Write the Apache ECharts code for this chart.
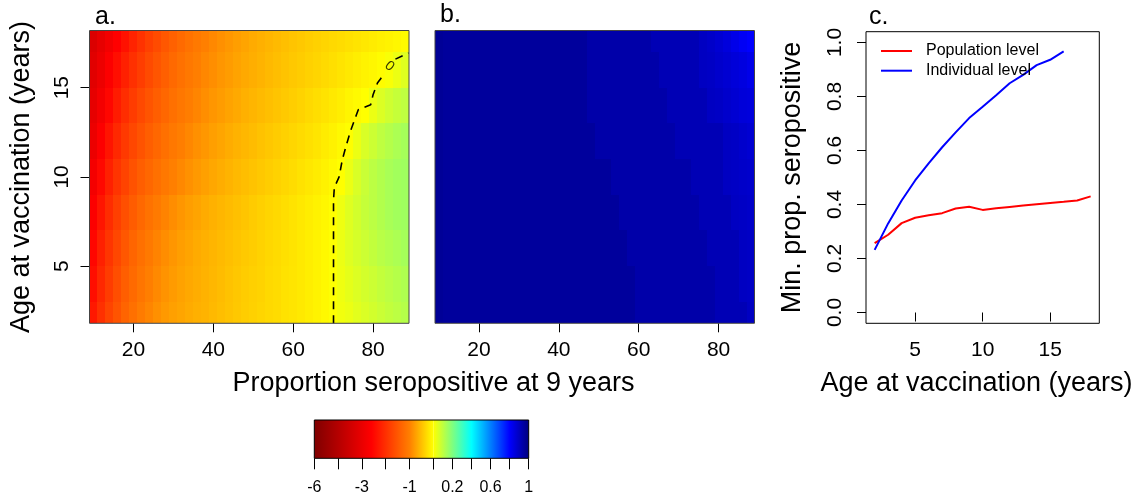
<!DOCTYPE html>
<html><head><meta charset="utf-8">
<script src="https://cdn.jsdelivr.net/npm/echarts@6/dist/echarts.min.js"></script>
<style>html,body{margin:0;padding:0;background:#fff}#c{width:1140px;height:499px}</style>
</head><body><div id="c"></div>
<script>
// ---------------- data ----------------
const seroX = [10,12,14,16,18,20,22,24,26,28,30,32,34,36,38,40,42,44,46,48,50,52,54,56,58,60,62,64,66,68,70,72,74,76,78,80,82,84,86,88];
const bandAges = [2,4,6,8,10,12,14,16,18];
// panel a: rows = bandAges (bottom to top), columns = seroX
const effectA = [
 [-2.30,-2.00,-1.74,-1.54,-1.34,-1.19,-1.05,-0.95,-0.87,-0.80,-0.74,-0.70,-0.66,-0.62,-0.59,-0.55,-0.51,-0.47,-0.43,-0.39,-0.36,-0.33,-0.30,-0.27,-0.23,-0.20,-0.17,-0.13,-0.09,-0.05,0.003,0.02,0.03,0.045,0.058,0.07,0.083,0.095,0.105,0.115],
 [-2.42,-2.10,-1.84,-1.62,-1.42,-1.26,-1.12,-1.01,-0.92,-0.84,-0.78,-0.73,-0.68,-0.64,-0.60,-0.56,-0.52,-0.48,-0.44,-0.40,-0.37,-0.34,-0.30,-0.27,-0.23,-0.20,-0.17,-0.13,-0.09,-0.05,0.003,0.025,0.04,0.055,0.068,0.08,0.093,0.105,0.115,0.125],
 [-2.52,-2.20,-1.93,-1.70,-1.50,-1.33,-1.19,-1.07,-0.97,-0.89,-0.82,-0.76,-0.71,-0.66,-0.62,-0.58,-0.54,-0.50,-0.46,-0.42,-0.39,-0.35,-0.31,-0.28,-0.24,-0.21,-0.17,-0.13,-0.09,-0.05,0.002,0.03,0.05,0.065,0.08,0.095,0.11,0.12,0.13,0.14],
 [-2.65,-2.34,-2.05,-1.81,-1.61,-1.44,-1.29,-1.16,-1.06,-0.97,-0.89,-0.82,-0.76,-0.71,-0.66,-0.61,-0.57,-0.53,-0.49,-0.45,-0.41,-0.37,-0.33,-0.30,-0.26,-0.22,-0.18,-0.14,-0.10,-0.06,-0.01,0.025,0.05,0.07,0.09,0.105,0.12,0.135,0.145,0.15],
 [-2.80,-2.50,-2.20,-1.95,-1.75,-1.57,-1.42,-1.30,-1.19,-1.09,-1.00,-0.93,-0.86,-0.80,-0.74,-0.69,-0.64,-0.59,-0.55,-0.51,-0.47,-0.43,-0.39,-0.35,-0.31,-0.27,-0.23,-0.19,-0.15,-0.10,-0.05,0.00,0.03,0.06,0.085,0.105,0.12,0.135,0.145,0.15],
 [-2.95,-2.64,-2.35,-2.10,-1.88,-1.70,-1.55,-1.42,-1.30,-1.19,-1.09,-1.01,-0.94,-0.87,-0.81,-0.75,-0.70,-0.65,-0.60,-0.56,-0.52,-0.48,-0.44,-0.40,-0.36,-0.32,-0.28,-0.24,-0.20,-0.15,-0.10,-0.05,-0.005,0.03,0.06,0.08,0.10,0.115,0.13,0.14],
 [-3.10,-2.80,-2.52,-2.26,-2.03,-1.84,-1.68,-1.54,-1.42,-1.30,-1.19,-1.10,-1.02,-0.95,-0.88,-0.82,-0.77,-0.72,-0.67,-0.62,-0.58,-0.54,-0.50,-0.46,-0.42,-0.38,-0.34,-0.30,-0.26,-0.22,-0.17,-0.13,-0.08,-0.04,0.00,0.03,0.055,0.075,0.09,0.10],
 [-3.25,-2.93,-2.66,-2.42,-2.20,-2.00,-1.83,-1.67,-1.53,-1.40,-1.28,-1.18,-1.09,-1.01,-0.94,-0.88,-0.82,-0.77,-0.72,-0.67,-0.63,-0.59,-0.55,-0.51,-0.47,-0.43,-0.40,-0.36,-0.33,-0.29,-0.25,-0.21,-0.17,-0.13,-0.09,-0.06,-0.02,0.01,0.03,0.05],
 [-3.40,-3.08,-2.82,-2.60,-2.38,-2.16,-1.97,-1.80,-1.65,-1.51,-1.38,-1.27,-1.17,-1.08,-1.00,-0.93,-0.87,-0.81,-0.76,-0.71,-0.66,-0.62,-0.58,-0.54,-0.50,-0.46,-0.43,-0.39,-0.36,-0.33,-0.30,-0.27,-0.24,-0.21,-0.18,-0.15,-0.12,-0.09,-0.06,-0.03]
];
// panel b
const effectB = [
 [.962,.955,.955,.955,.955,.955,.955,.955,.955,.955, .955,.955,.955,.955,.955,.955,.955,.955,.955,.955, .955,.955,.955,.955,.955,.935,.935,.935,.935,.935, .935,.935,.935,.935,.935,.915,.915,.915,.915,.895],
 [.962,.955,.955,.955,.955,.955,.955,.955,.955,.955, .955,.955,.955,.955,.955,.955,.955,.955,.955,.955, .955,.955,.955,.955,.955,.935,.935,.935,.935,.935, .935,.935,.935,.935,.935,.915,.915,.915,.895,.89],
 [.962,.955,.955,.955,.955,.955,.955,.955,.955,.955, .955,.955,.955,.955,.955,.955,.955,.955,.955,.955, .955,.955,.955,.955,.935,.935,.935,.935,.935,.935, .935,.935,.935,.935,.915,.915,.915,.915,.895,.89],
 [.962,.955,.955,.955,.955,.955,.955,.955,.955,.955, .955,.955,.955,.955,.955,.955,.955,.955,.955,.955, .955,.955,.955,.935,.935,.935,.935,.935,.935,.935, .935,.935,.935,.915,.915,.915,.915,.895,.89,.885],
 [.962,.955,.955,.955,.955,.955,.955,.955,.955,.955, .955,.955,.955,.955,.955,.955,.955,.955,.955,.955, .955,.955,.935,.935,.935,.935,.935,.935,.935,.935, .935,.935,.915,.915,.915,.915,.895,.89,.885,.88],
 [.962,.955,.955,.955,.955,.955,.955,.955,.955,.955, .955,.955,.955,.955,.955,.955,.955,.955,.955,.955, .935,.935,.935,.935,.935,.935,.935,.935,.935,.935, .915,.915,.915,.915,.915,.915,.895,.89,.88,.87],
 [.962,.955,.955,.955,.955,.955,.955,.955,.955,.955, .955,.955,.955,.955,.955,.955,.955,.955,.955,.935, .935,.935,.935,.935,.935,.935,.935,.935,.935,.915, .915,.915,.915,.915,.895,.89,.88,.87,.86,.855],
 [.962,.955,.955,.955,.955,.955,.955,.955,.955,.955, .955,.955,.955,.955,.955,.955,.955,.955,.955,.935, .935,.935,.935,.935,.935,.935,.935,.935,.915,.915, .915,.915,.915,.895,.89,.88,.87,.86,.85,.835],
 [.962,.955,.955,.955,.955,.955,.955,.955,.955,.955, .955,.955,.955,.955,.955,.955,.955,.955,.955,.935, .935,.935,.935,.935,.935,.935,.935,.915,.915,.915, .915,.915,.915,.895,.885,.87,.855,.835,.815,.80]
];
// zero contour of panel a (null = gap for the label)
const contourX   = [70.1, 70.1, 70.3, 71.5, 72.3, 73.2, 74.4, 75.7, 76.3, 79.4, 80.0, 81.1, 81.9, 82.8, null, 85.6, 86.1, 88.9];
const contourAge = [1.8, 8.7, 9.4, 10.0, 10.96, 11.7, 12.6, 13.4, 13.76, 14.04, 14.6, 15.26, 15.5, 15.8, null, 16.6, 16.7, 16.95];
const contourLabel = [84.1, 16.2, '0'];
// panel c
const vaccAges = [2,3,4,5,6,7,8,9,10,11,12,13,14,15,16,17,18];
const popLevel = [0.257,0.288,0.331,0.351,0.360,0.368,0.385,0.392,0.380,0.386,0.391,0.396,0.401,0.406,0.410,0.415,0.430];
const indAges = [2,3,4,5,6,7,8,9,10,11,12,13,14,15,16];
const indLevel = [0.232,0.330,0.415,0.489,0.552,0.612,0.667,0.720,0.762,0.805,0.849,0.880,0.916,0.936,0.967];
// ticks
const seroTicks = [20,40,60,80];
const ageTicks = [5,10,15];
const propTicks = [0,0.2,0.4,0.6,0.8,1];
const cbBreaks = [-6,-4.5,-3,-2,-1,0,0.2,0.4,0.6,0.8,1];
const cbLabels = ['-6','','-3','','-1','','0.2','','0.6','','1'];

// ---------------- colour scale ----------------
const cbStops = [[0,'#7F0000'],[2.4,'#FF0000'],[4,'#FF7F00'],[5,'#FFFF00'],[6,'#7FFF7F'],[7,'#00FFFF'],[8,'#007FFF'],[9,'#0000FF'],[10,'#00007F']];
function hexRgb(h){return [parseInt(h.slice(1,3),16),parseInt(h.slice(3,5),16),parseInt(h.slice(5,7),16)];}
function tickIndex(v){
  if (v <= cbBreaks[0]) return 0;
  for (let i=0;i<cbBreaks.length-1;i++){
    if (v <= cbBreaks[i+1]) return i + (v-cbBreaks[i])/(cbBreaks[i+1]-cbBreaks[i]);
  }
  return cbBreaks.length-1;
}
function colorAtT(t){
  for (let i=0;i<cbStops.length-1;i++){
    const [t0,c0]=cbStops[i],[t1,c1]=cbStops[i+1];
    if (t <= t1){
      const f=Math.max(0,Math.min(1,(t-t0)/(t1-t0)));
      const a=hexRgb(c0),b=hexRgb(c1);
      return 'rgb('+a.map((x,k)=>Math.round(x+(b[k]-x)*f)).join(',')+')';
    }
  }
  return cbStops[cbStops.length-1][1];
}
function colorOf(v){return colorAtT(tickIndex(v));}

// ---------------- helpers ----------------
const FONT = 'Liberation Sans';
const Y_MIN = 1.795, Y_MAX = 18.205;
function heatSeries(idx, matrix){
  const data=[];
  matrix.forEach((row,r)=>row.forEach((v,c)=>data.push([seroX[c], bandAges[r], v, c, r])));
  const half = (seroX[1]-seroX[0])/2;
  return {
    type:'custom', xAxisIndex:idx, yAxisIndex:idx, data, silent:true, clip:true, z:1,
    renderItem(params, api){
      const x=api.value(0), r=api.value(4), v=api.value(2);
      const lo = r===0 ? Y_MIN : (bandAges[r-1]+bandAges[r])/2;
      const hi = r===bandAges.length-1 ? Y_MAX : (bandAges[r]+bandAges[r+1])/2;
      const p0=api.coord([x-half,hi]), p1=api.coord([x+half,lo]);
      const x0=Math.round(p0[0]), x1=Math.round(p1[0]), y0=Math.round(p0[1]), y1=Math.round(p1[1]);
      return {type:'rect', shape:{x:x0,y:y0,width:x1-x0,height:y1-y0},
              style:{fill:colorOf(v)}};
    }
  };
}
function barSeries(idx, t0, t1){
  const stops=[];
  cbStops.forEach(([t,c])=>{ if(t>=t0 && t<=t1) stops.push({offset:(t-t0)/(t1-t0), color:c}); });
  return {
    type:'custom', xAxisIndex:idx, yAxisIndex:idx, data:[[t0,0]], silent:true, z:1,
    renderItem(params, api){
      const p0=api.coord([t0,1]), p1=api.coord([t1,0]);
      return {type:'rect', shape:{x:p0[0],y:p0[1],width:p1[0]-p0[0],height:p1[1]-p0[1]},
              style:{fill:new echarts.graphic.LinearGradient(0,0,1,0,stops)}};
    }
  };
}
function contourSegments(){
  const segs=[[]];
  contourX.forEach((x,i)=>{ if(x===null){segs.push([]);} else segs[segs.length-1].push([x,contourAge[i]]); });
  return segs;
}
const tickStyle = {show:true, length:9, lineStyle:{color:'#000', width:1}};
const labStyle = {color:'#000', fontSize:21, fontFamily:FONT};
function hiddenAxis(gi,min,max){return {gridIndex:gi, type:'value', min, max, show:false};}

const chart = echarts.init(document.getElementById('c'));
const option = {
  animation:false,
  backgroundColor:'#fff',
  grid:[
    {left:89.5, top:30.5, width:319.5, height:292.8, show:true, borderColor:'#444', borderWidth:1, backgroundColor:'transparent', z:10},
    {left:435, top:30.5, width:319.5, height:292.8, show:true, borderColor:'#444', borderWidth:1, backgroundColor:'transparent', z:10},
    {left:866, top:31.7, width:233.3, height:291.6, show:true, borderColor:'#000', borderWidth:1, backgroundColor:'transparent', z:10},
    {left:314.3, top:420, width:119, height:38.3},
    {left:433.3, top:420, width:95.4, height:38.3},
    {left:314.3, top:420, width:214.4, height:38.3, show:true, borderColor:'#000', borderWidth:1, backgroundColor:'transparent', z:10}
  ],
  xAxis:[
    {gridIndex:0, type:'value', min:9, max:89, axisLine:{show:false}, splitLine:{show:false},
     axisTick:Object.assign({customValues:seroTicks}, tickStyle),
     axisLabel:Object.assign({customValues:seroTicks, margin:16}, labStyle)},
    {gridIndex:1, type:'value', min:9, max:89, axisLine:{show:false}, splitLine:{show:false},
     axisTick:Object.assign({customValues:seroTicks}, tickStyle),
     axisLabel:Object.assign({customValues:seroTicks, margin:16}, labStyle)},
    {gridIndex:2, type:'value', min:1.36, max:18.64, axisLine:{show:false}, splitLine:{show:false},
     axisTick:Object.assign({customValues:ageTicks}, tickStyle),
     axisLabel:Object.assign({customValues:ageTicks, margin:16}, labStyle)},
    {gridIndex:3, type:'value', min:0, max:5, interval:1, axisLine:{show:false}, splitLine:{show:false},
     axisTick:{show:true, length:11, lineStyle:{color:'#000', width:1}},
     axisLabel:{color:'#000', fontSize:16, fontFamily:FONT, margin:21, formatter:v=>cbLabels[Math.round(v)]}},
    {gridIndex:4, type:'value', min:5, max:10, interval:1, axisLine:{show:false}, splitLine:{show:false},
     axisTick:{show:true, length:11, lineStyle:{color:'#000', width:1}},
     axisLabel:{color:'#000', fontSize:16, fontFamily:FONT, margin:21, formatter:v=>cbLabels[Math.round(v)]}},
    hiddenAxis(5,0,1)
  ],
  yAxis:[
    {gridIndex:0, type:'value', min:Y_MIN, max:Y_MAX, axisLine:{show:false}, splitLine:{show:false},
     axisTick:Object.assign({customValues:ageTicks}, tickStyle),
     axisLabel:Object.assign({customValues:ageTicks, rotate:90, margin:17}, labStyle)},
    {gridIndex:1, type:'value', min:Y_MIN, max:Y_MAX, axisLine:{show:false}, splitLine:{show:false}, axisTick:{show:false}, axisLabel:{show:false}},
    {gridIndex:2, type:'value', min:-0.04, max:1.04, axisLine:{show:false}, splitLine:{show:false},
     axisTick:Object.assign({customValues:propTicks}, tickStyle),
     axisLabel:Object.assign({customValues:propTicks, rotate:90, margin:20, formatter:v=>v.toFixed(1)}, labStyle)},
    hiddenAxis(3,0,1), hiddenAxis(4,0,1), hiddenAxis(5,0,1)
  ],
  legend:{
    left:881, top:43, orient:'vertical', padding:0, itemGap:3.7, itemWidth:31, itemHeight:2, icon:'rect',
    data:['Population level','Individual level'],
    formatter:n=>'{pad|}'+n,
    textStyle:{fontSize:16, fontFamily:FONT, color:'#000', lineHeight:16, rich:{pad:{width:9}}}
  },
  series:[
    heatSeries(0, effectA),
    heatSeries(1, effectB),
    ...contourSegments().map(seg=>({
      type:'line', xAxisIndex:0, yAxisIndex:0, data:seg, symbol:'none', silent:true, z:5,
      lineStyle:{color:'#000', width:1.6, type:[8,6]}
    })),
    {type:'scatter', xAxisIndex:0, yAxisIndex:0, data:[[contourLabel[0],contourLabel[1]]], symbolSize:0, silent:true, z:6,
     label:{show:true, position:'inside', formatter:contourLabel[2], color:'#000', fontSize:14, fontFamily:FONT, rotate:-40}},
    {name:'Population level', type:'line', xAxisIndex:2, yAxisIndex:2, symbol:'none', color:'#ff0000',
     itemStyle:{color:'#ff0000'}, lineStyle:{color:'#ff0000', width:2},
     data:vaccAges.map((a,i)=>[a,popLevel[i]])},
    {name:'Individual level', type:'line', xAxisIndex:2, yAxisIndex:2, symbol:'none', color:'#0000ff',
     itemStyle:{color:'#0000ff'}, lineStyle:{color:'#0000ff', width:2},
     data:indAges.map((a,i)=>[a,indLevel[i]])},
    barSeries(3, 0, 5),
    barSeries(4, 5, 10)
  ],
  graphic:[
    {type:'text', x:95, y:17, style:{text:'a.', fontSize:25, fontFamily:FONT, fill:'#000', align:'left', verticalAlign:'middle'}},
    {type:'text', x:440, y:15, style:{text:'b.', fontSize:25, fontFamily:FONT, fill:'#000', align:'left', verticalAlign:'middle'}},
    {type:'text', x:869, y:17, style:{text:'c.', fontSize:25, fontFamily:FONT, fill:'#000', align:'left', verticalAlign:'middle'}},
    {type:'text', x:22, y:177, rotation:Math.PI/2, style:{text:'Age at vaccination (years)', fontSize:27, fontFamily:FONT, fill:'#000', align:'center', verticalAlign:'middle'}},
    {type:'text', x:433.5, y:383.5, style:{text:'Proportion seropositive at 9 years', fontSize:27, fontFamily:FONT, fill:'#000', align:'center', verticalAlign:'middle'}},
    {type:'text', x:793, y:177.5, rotation:Math.PI/2, style:{text:'Min. prop. seropositive', fontSize:27, fontFamily:FONT, fill:'#000', align:'center', verticalAlign:'middle'}},
    {type:'text', x:976.5, y:383.5, style:{text:'Age at vaccination (years)', fontSize:27, fontFamily:FONT, fill:'#000', align:'center', verticalAlign:'middle'}}
  ]
};
chart.setOption(option);
</script>
</body></html>
